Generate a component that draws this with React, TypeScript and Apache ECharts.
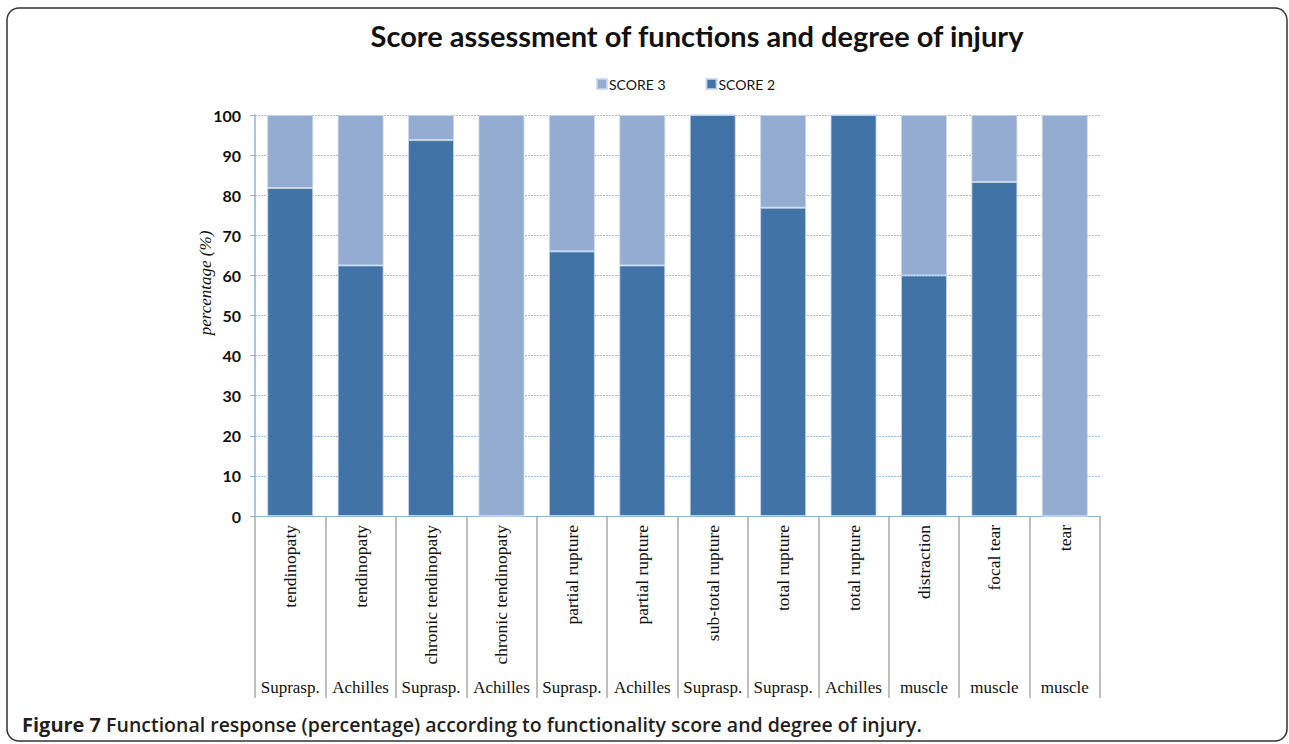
import React, { useEffect, useRef } from "react";
import * as echarts from "echarts";

const injuries = [
  "tendinopaty", "tendinopaty", "chronic tendinopaty", "chronic tendinopaty",
  "partial rupture", "partial rupture", "sub-total rupture", "total rupture",
  "total rupture", "distraction", "focal tear", "tear",
];
const sites = [
  "Suprasp.", "Achilles", "Suprasp.", "Achilles", "Suprasp.", "Achilles",
  "Suprasp.", "Suprasp.", "Achilles", "muscle", "muscle", "muscle",
];
const score2 = [81.8, 62.5, 93.75, 0, 66, 62.5, 100, 76.9, 100, 60, 83.3, 0];
const score3 = [18.2, 37.5, 6.25, 100, 34, 37.5, 0, 23.1, 0, 40, 16.7, 100];
const yTicks = { min: 0, max: 100, interval: 10 };

const TITLE = "Score assessment of functions and degree of injury";
const CAPTION_BOLD = "Figure 7";
const CAPTION = " Functional response (percentage) according to functionality score and degree of injury.";

export default function App() {
  const ref = useRef<HTMLDivElement>(null);
  useEffect(() => {
    if (!ref.current) return;
    const chart = echarts.init(ref.current, null, { renderer: "svg" });
    const dark = "#4173A7";
    const light = "#94ACD1";
    chart.setOption({
      animation: false,
      backgroundColor: "#ffffff",
      title: {
        text: TITLE,
        left: 692,
        top: 16,
        textAlign: "center",
        textStyle: { fontFamily: "Lato", fontWeight: "bold", fontSize: 29, color: "#111" },
      },
      legend: {
        data: ["SCORE 3", "SCORE 2"],
        left: 591,
        top: 72,
        itemWidth: 10,
        itemHeight: 10,
        itemGap: 40,
        icon: "rect",
        textStyle: { fontFamily: "Lato", fontSize: 14, color: "#111", padding: [0, 0, 0, -3] },
      },
      grid: { left: 255, right: 189, top: 115, bottom: 228, containLabel: false },
      xAxis: [
        {
          type: "category",
          data: injuries,
          axisLine: { show: true, lineStyle: { color: "#8DB3E2", width: 1 } },
          axisTick: { show: true, length: 182, lineStyle: { color: "#AAAAAA", width: 1.5 } },
          axisLabel: {
            rotate: 90,
            interval: 0,
            margin: 9,
            fontFamily: "Liberation Serif",
            fontSize: 17.5,
            color: "#111",
          },
        },
        {
          type: "category",
          data: sites,
          position: "bottom",
          axisLine: { show: false },
          axisTick: { show: false },
          axisLabel: {
            interval: 0,
            margin: 163,
            fontFamily: "Liberation Serif",
            fontSize: 17,
            color: "#111",
          },
        },
      ],
      yAxis: {
        type: "value",
        min: yTicks.min,
        max: yTicks.max,
        interval: yTicks.interval,
        axisLine: { show: true, lineStyle: { color: "#8DB3E2", width: 1.5 } },
        axisTick: { show: true, length: 5, lineStyle: { color: "#8DB3E2" } },
        axisLabel: {
          margin: 14,
          fontFamily: "Lato",
          fontWeight: "bold",
          fontSize: 16,
          color: "#111",
        },
        splitLine: { show: true, lineStyle: { color: "#9DBCE4", type: [2, 1], width: 1.2 } },
      },
      series: [
        {
          name: "SCORE 2",
          type: "bar",
          stack: "s",
          data: score2,
          barWidth: 46,
          itemStyle: { color: dark, borderColor: "rgba(200,215,235,0.8)", borderWidth: 1 },
        },
        {
          name: "SCORE 3",
          type: "bar",
          stack: "s",
          data: score3,
          barWidth: 46,
          itemStyle: { color: light, borderColor: "rgba(200,215,235,0.8)", borderWidth: 1 },
        },
      ],
      graphic: [
        {
          type: "rect",
          shape: { x: 7, y: 8, width: 1280, height: 733, r: 12 },
          style: { fill: "none", stroke: "#333", lineWidth: 1.5 },
          silent: true,
        },
        {
          type: "text",
          x: 205,
          y: 283,
          rotation: Math.PI / 2,
          style: {
            text: "percentage (%)",
            font: "italic 17px 'Liberation Serif'",
            fill: "#111",
            align: "center",
            verticalAlign: "middle",
          },
        },
        {
          type: "text",
          x: 22,
          y: 724,
          style: {
            text: "{b|" + CAPTION_BOLD + "}{n|" + CAPTION + "}",
            verticalAlign: "middle",
            rich: {
              b: { fontFamily: "Open Sans", fontWeight: "bold", fontSize: 20, fill: "#231F20" },
              n: { fontFamily: "Open Sans", fontWeight: 600, fontSize: 19.5, fill: "#231F20" },
            },
          },
        },
      ],
    });
    return () => chart.dispose();
  }, []);
  return (
    <div
      ref={ref}
      style={{ position: "absolute", left: 0, top: 0, width: 1289, height: 744 }}
    />
  );
}
